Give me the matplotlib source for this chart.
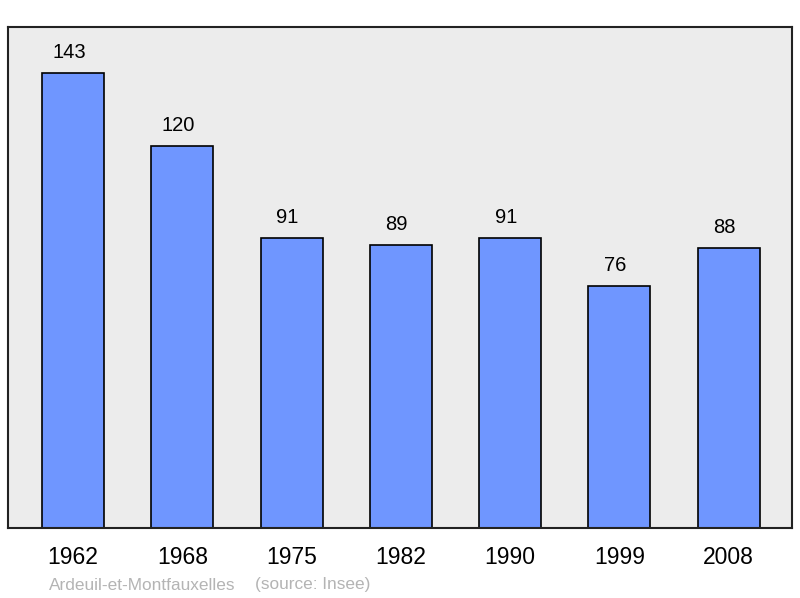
import matplotlib.pyplot as plt

plt.rcParams['font.family'] = ['Liberation Sans', 'DejaVu Sans']

years = ['1962', '1968', '1975', '1982', '1990', '1999', '2008']
population = [143, 120, 91, 89, 91, 76, 88]

fig = plt.figure(figsize=(8, 5.98), dpi=100)
ax = fig.add_axes([0.01, 0.117, 0.98, 0.838])
ax.set_facecolor('#ececec')

x = list(range(len(years)))
bars = ax.bar(x, population, width=0.567, color='#6f96ff', edgecolor='black', linewidth=1.2, zorder=2)
# value labels, sitting a bit left of centre as in the original
for xi, v in zip(x, population):
    ax.annotate(str(v), (xi, v), xytext=(-3, 8), textcoords='offset points',
                ha='center', va='bottom', fontsize=14.5)

ax.set_xlim(-0.595, 6.58)
ax.set_ylim(0, 157.5)
ax.set_yticks([])
ax.set_xticks(x)
ax.set_xticklabels(years, fontsize=16.5)
ax.tick_params(axis='x', length=0, pad=13)
for s in ax.spines.values():
    s.set_linewidth(1.5)
    s.set_color('#222222')

fig.text(49/800, 1 - 585/598, 'Ardeuil-et-Montfauxelles', fontsize=12.4, color='#b4b4b4', va='center')
fig.text(255/800, 1 - 585/598, '(source: Insee)', fontsize=12.4, color='#b4b4b4', va='center')

fig.savefig('out.png', dpi=100, facecolor='white')
